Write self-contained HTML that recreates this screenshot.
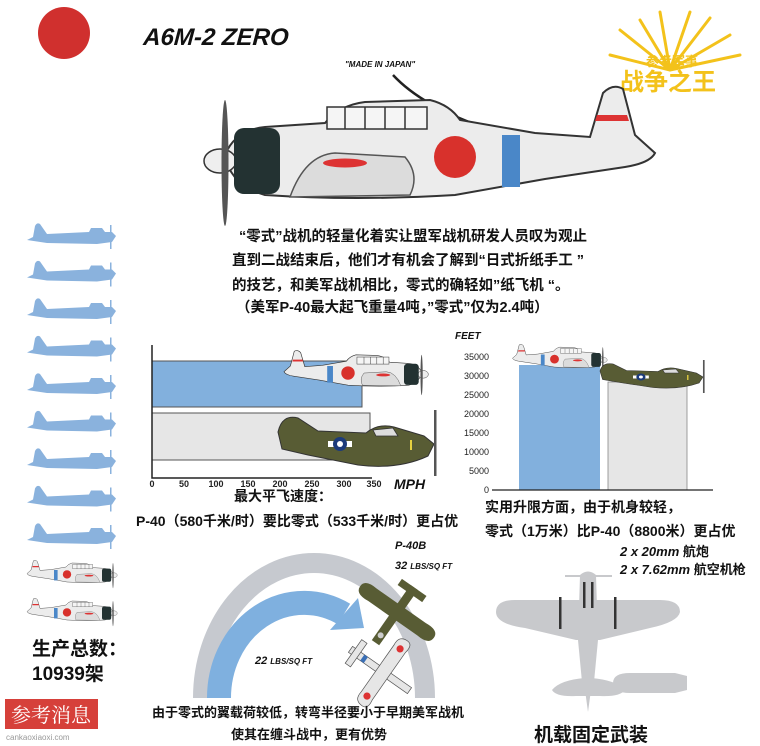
<!DOCTYPE html>
<html><head><meta charset="utf-8"><style>
body{margin:0;background:#fff}
svg{display:block}
.cn{font-family:"Liberation Sans","Noto Sans CJK SC",sans-serif;font-weight:bold;fill:#111}
.it{font-family:"Liberation Sans",sans-serif;font-style:italic;font-weight:bold;fill:#111}
</style></head><body>
<svg width="760" height="746" viewBox="0 0 760 746" xmlns="http://www.w3.org/2000/svg">
<defs>
<g id="zero">
  <path d="M20,70 Q30,45 60,42 L120,38 Q135,20 160,17 L225,15 Q245,20 255,35 L330,48 L385,52 L398,8 Q408,-2 418,4 L430,50 L450,68 Q445,78 420,82 L340,94 L250,110 Q150,116 60,110 Q25,100 20,70 Z" fill="#ececec" stroke="#333" stroke-width="2"/>
  <path d="M392,30 L422,30 L424,36 L390,36 Z" fill="#d33"/>
  <path d="M85,112 Q100,70 130,68 L200,72 Q215,90 205,110 Z" fill="#dcdcdc" stroke="#555" stroke-width="1.5"/>
  <ellipse cx="140" cy="78" rx="22" ry="4.5" fill="#d33"/>
  <rect x="122" y="22" width="100" height="22" fill="#f5f5f5" stroke="#333" stroke-width="1.5"/>
  <path d="M140,22 V44 M160,22 V44 M180,22 V44 M200,22 V44" stroke="#333" stroke-width="1.5"/>
  <circle cx="250" cy="72" r="21" fill="#d8312c"/>
  <rect x="297" y="50" width="18" height="52" fill="#4a87c8"/>
  <ellipse cx="15" cy="76" rx="16" ry="12" fill="#eee" stroke="#333" stroke-width="1.5"/>
  <rect x="29" y="43" width="46" height="66" rx="10" fill="#233232"/>
  <ellipse cx="20" cy="78" rx="3.5" ry="63" fill="#555"/>
</g>
<g id="p40">
  <path d="M0,18 Q4,0 20,4 L40,17 L88,19 Q100,9 116,13 L146,22 L156,30 L150,42 Q120,56 80,51 L30,41 L4,35 Z" fill="#585c34" stroke="#333" stroke-width="1"/>
  <path d="M95,16 L115,14 L120,22 L98,22 Z" fill="#ddd" stroke="#333" stroke-width="0.8"/>
  <rect x="50" y="27" width="24" height="6" fill="#fff"/>
  <circle cx="62" cy="30" r="7" fill="#1d3b7a"/>
  <circle cx="62" cy="30" r="3" fill="#fff"/>
  <rect x="132" y="26" width="2" height="10" fill="#e6d040"/>
  <rect x="156" y="-4" width="2.5" height="66" fill="#555"/>
</g>
<g id="blue">
  <path d="M0,18 L6,15 L8,4 Q10,0 13,2 L20,12 L62,10 L64,6 L75,6 L78,10 L85,10 L89,14 L85,20 L70,22 L20,21 Z" fill="#8ab2dd"/>
  <rect x="83" y="3" width="1.5" height="24" fill="#8ab2dd"/>
</g>
</defs>

<!-- header -->
<circle cx="64" cy="33" r="26" fill="#d0302e"/>
<text x="146" y="45" class="it" font-size="24" transform="skewX(-4)">A6M-2 ZERO</text>
<text x="345" y="67" class="it" font-size="8">"MADE IN JAPAN"</text>
<path d="M393,75 Q430,115 525,140" stroke="#222" stroke-width="2.5" fill="none"/>
<path d="M519,132 L528,142 L516,142 Z" fill="#222"/>

<!-- logo -->
<g stroke="#f3c21b" stroke-width="3" stroke-linecap="round">
<path d="M670,70 L620,30 M670,70 L640,20 M670,70 L660,12 M670,70 L690,12 M670,70 L710,18 M670,70 L730,35 M670,70 L740,55 M670,70 L610,55"/>
</g>
<text x="672" y="66" text-anchor="middle" font-family="Liberation Sans,Noto Sans CJK SC,sans-serif" font-weight="bold" font-size="13" fill="#f3c21b">参考军事</text>
<text x="668" y="90" text-anchor="middle" font-family="Liberation Sans,Noto Sans CJK SC,sans-serif" font-weight="bold" font-size="24" fill="#f3c21b">战争之王</text>

<!-- main plane -->
<use href="#zero" transform="translate(205,85)"/>

<!-- intro text -->
<g class="cn" font-size="14.5">
<text x="239" y="241">“零式”战机的轻量化着实让盟军战机研发人员叹为观止</text>
<text x="232" y="265">直到二战结束后，他们才有机会了解到“日式折纸手工 ”</text>
<text x="232" y="290">的技艺，和美军战机相比，零式的确轻如”纸飞机 “。</text>
<text x="236" y="312">（美军P-40最大起飞重量4吨，”零式”仅为2.4吨）</text>
</g>

<!-- left column -->
<use href="#blue" transform="translate(27,222)"/>
<use href="#blue" transform="translate(27,259.5)"/>
<use href="#blue" transform="translate(27,297)"/>
<use href="#blue" transform="translate(27,334.5)"/>
<use href="#blue" transform="translate(27,372)"/>
<use href="#blue" transform="translate(27,409.5)"/>
<use href="#blue" transform="translate(27,447)"/>
<use href="#blue" transform="translate(27,484.5)"/>
<use href="#blue" transform="translate(27,522)"/>
<use href="#zero" transform="translate(117,560) scale(-0.2,0.2)"/>
<use href="#zero" transform="translate(117,598) scale(-0.2,0.2)"/>
<text x="32" y="655" class="cn" font-size="19">生产总数：</text>
<text x="32" y="680" class="cn" font-size="19">10939架</text>
<rect x="5" y="699" width="93" height="30" fill="#d6403a"/>
<text x="51" y="722" text-anchor="middle" font-family="Noto Serif CJK SC,serif" font-size="20" fill="#fff">参考消息</text>
<text x="6" y="740" font-family="Liberation Sans,sans-serif" font-size="8" fill="#999">cankaoxiaoxi.com</text>

<!-- speed chart -->
<rect x="152" y="361" width="210" height="46" fill="#82b0dd" stroke="#555" stroke-width="1"/>
<rect x="152" y="413" width="218" height="47" fill="#e6e6e6" stroke="#555" stroke-width="1"/>
<path d="M152,345 V478 H372" stroke="#222" stroke-width="1.5" fill="none"/>
<g font-family="Liberation Sans,sans-serif" font-size="9" font-weight="bold" fill="#222" text-anchor="middle">
<text x="152" y="487">0</text><text x="184" y="487">50</text><text x="216" y="487">100</text><text x="248" y="487">150</text>
<text x="280" y="487">200</text><text x="312" y="487">250</text><text x="344" y="487">300</text><text x="374" y="487">350</text>
</g>
<text x="394" y="489" class="it" font-size="14">MPH</text>
<use href="#zero" transform="translate(428,350) scale(-0.32,0.32)"/>
<use href="#p40" transform="translate(278,414) scale(1,1)"/>
<text x="283" y="501" text-anchor="middle" class="cn" font-size="14">最大平飞速度：</text>
<text x="136" y="526" class="cn" font-size="14">P-40（580千米/时）要比零式（533千米/时）更占优</text>

<!-- altitude chart -->
<text x="455" y="339" class="it" font-size="10">FEET</text>
<g font-family="Liberation Sans,sans-serif" font-size="9" fill="#222" text-anchor="end">
<text x="489" y="360">35000</text><text x="489" y="379">30000</text><text x="489" y="398">25000</text><text x="489" y="417">20000</text>
<text x="489" y="436">15000</text><text x="489" y="455">10000</text><text x="489" y="474">5000</text><text x="489" y="493">0</text>
</g>
<rect x="519" y="365" width="81" height="125" fill="#82b0dd"/>
<rect x="608" y="382" width="79" height="108" fill="#e6e6e6" stroke="#888" stroke-width="0.8"/>
<path d="M492,490 H713" stroke="#222" stroke-width="1.2"/>
<use href="#zero" transform="translate(607,344) scale(-0.21,0.21)"/>
<use href="#p40" transform="translate(600,362) scale(0.66,0.5)"/>
<text x="485" y="512" class="cn" font-size="14">实用升限方面，由于机身较轻，</text>
<text x="485" y="536" class="cn" font-size="14">零式（1万米）比P-40（8800米）更占优</text>

<!-- turning -->
<path d="M203,698 A111,135 0 0 1 425,698" stroke="#c6c9cf" stroke-width="20" fill="none"/>
<path d="M219,698 A85,95 0 0 1 344,614" stroke="#7fb0df" stroke-width="24" fill="none"/>
<path d="M330,630 L358,598 L364,628 Z" fill="#7fb0df"/>
<text x="395" y="549" class="it" font-size="11">P-40B</text>
<text x="395" y="569" class="it" font-size="11">32 <tspan font-size="8">LBS/SQ FT</tspan></text>
<text x="255" y="664" class="it" font-size="11">22 <tspan font-size="8">LBS/SQ FT</tspan></text>
<!-- P-40 top view -->
<g transform="translate(397,612) rotate(35) scale(0.75)">
<path d="M-6,-40 L6,-40 L6,50 L-6,50 Z" fill="#585c34"/>
<path d="M-60,0 Q-60,-12 -40,-10 L40,-10 Q60,-12 60,0 Q60,12 40,10 L-40,10 Q-60,12 -60,0 Z" fill="#585c34"/>
<path d="M-20,-40 L20,-40 L20,-30 L-20,-30 Z" fill="#585c34"/>
<circle cx="0" cy="38" r="4" fill="#ccc"/>
</g>
<!-- Zero top view -->
<g transform="translate(380,670) rotate(-55) scale(0.72)">
<path d="M-5,-50 L5,-50 L5,50 L-5,50 Z" fill="#e6e6e6" stroke="#555"/>
<path d="M-55,8 Q-55,-6 -40,-4 L40,-4 Q55,-6 55,8 Q55,18 40,15 L-40,15 Q-55,18 -55,8 Z" fill="#e6e6e6" stroke="#555"/>
<path d="M-20,-45 L20,-45 L20,-36 L-20,-36 Z" fill="#e6e6e6" stroke="#555"/>
<circle cx="-40" cy="6" r="5" fill="#d33"/><circle cx="40" cy="6" r="5" fill="#d33"/>
<rect x="-5" y="-30" width="10" height="6" fill="#3a6fb6"/>
</g>
<text x="308" y="717" text-anchor="middle" class="cn" font-size="13">由于零式的翼载荷较低，转弯半径要小于早期美军战机</text>
<text x="309" y="739" text-anchor="middle" class="cn" font-size="13">使其在缠斗战中，更有优势</text>

<!-- armament -->
<text x="620" y="556" class="it" font-size="13">2 x 20mm <tspan class="cn" font-style="normal">航炮</tspan></text>
<text x="620" y="574" class="it" font-size="13">2 x 7.62mm <tspan class="cn" font-style="normal">航空机枪</tspan></text>
<g fill="#c8c9cc">
<path d="M580,575 Q588,568 596,575 L598,640 L594,682 L582,682 L578,640 Z"/>
<path d="M496,612 Q496,600 515,600 L660,600 Q680,600 680,612 Q678,622 650,628 L600,640 L576,640 L525,628 Q496,624 496,612 Z"/>
<path d="M552,690 Q560,680 585,678 L591,678 Q616,680 625,690 Q620,697 600,696 L576,696 Q556,697 552,690 Z"/>
<path d="M585,690 L591,690 L588,712 Z"/>
<rect x="565" y="575" width="47" height="2"/>
<path d="M613,683 Q613,673 630,673 L675,673 L687,676 L687,690 L675,693 L630,693 Q613,693 613,683 Z"/>
</g>
<g fill="#333">
<rect x="559" y="597" width="2.5" height="32"/><rect x="614" y="597" width="2.5" height="32"/>
<rect x="583" y="582" width="2.5" height="26"/><rect x="591" y="582" width="2.5" height="26"/>
</g>
<text x="591" y="741" text-anchor="middle" class="cn" font-size="19">机载固定武装</text>
</svg>
</body></html>
